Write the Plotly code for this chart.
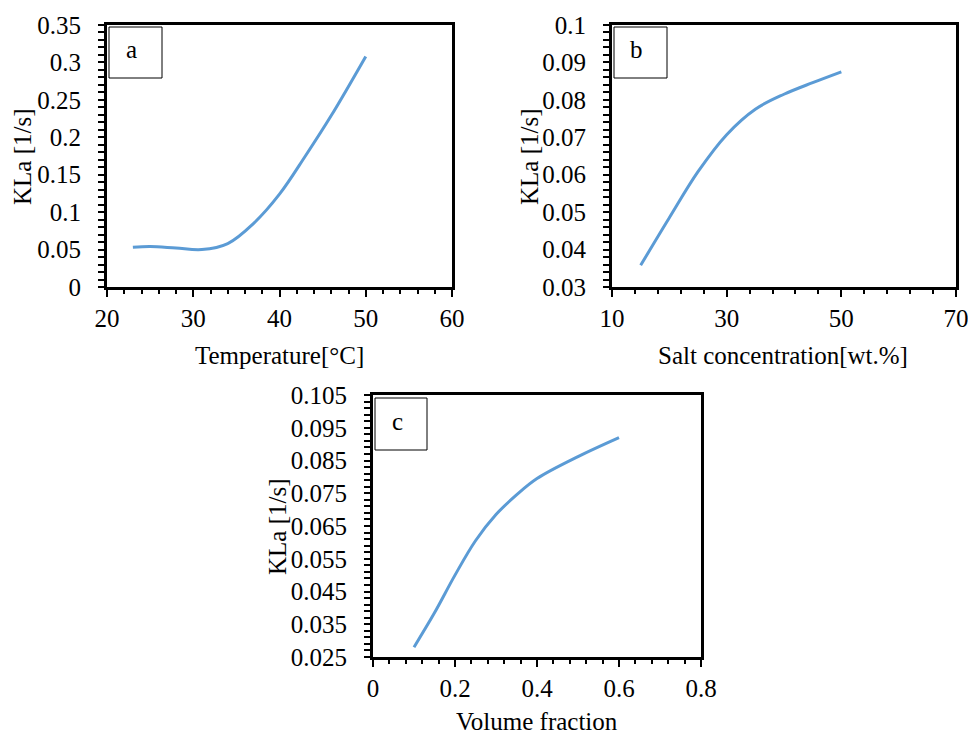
import plotly.graph_objects as go

W, H = 968, 734

# ---- data ----
temp_x = [23, 25, 28, 31, 34, 37, 40, 43, 46, 50]
temp_y = [0.053, 0.054, 0.052, 0.050, 0.058, 0.085, 0.124, 0.175, 0.229, 0.308]

salt_x = [15, 20, 25, 30, 35, 40, 45, 50]
salt_y = [0.0358, 0.0485, 0.0608, 0.0707, 0.0775, 0.0815, 0.0846, 0.0875]

vf_x = [0.1, 0.15, 0.2, 0.25, 0.3, 0.35, 0.4, 0.5, 0.6]
vf_y = [0.028, 0.0385, 0.050, 0.0605, 0.0685, 0.0745, 0.0795, 0.0862, 0.092]

a_xticks = [20, 30, 40, 50, 60]
a_xtext = ["20", "30", "40", "50", "60"]
a_yticks = [0, 0.05, 0.1, 0.15, 0.2, 0.25, 0.3, 0.35]
a_ytext = ["0", "0.05", "0.1", "0.15", "0.2", "0.25", "0.3", "0.35"]

b_xticks = [10, 30, 50, 70]
b_xtext = ["10", "30", "50", "70"]
b_yticks = [0.03, 0.04, 0.05, 0.06, 0.07, 0.08, 0.09, 0.1]
b_ytext = ["0.03", "0.04", "0.05", "0.06", "0.07", "0.08", "0.09", "0.1"]

c_xticks = [0, 0.2, 0.4, 0.6, 0.8]
c_xtext = ["0", "0.2", "0.4", "0.6", "0.8"]
c_yticks = [0.025, 0.035, 0.045, 0.055, 0.065, 0.075, 0.085, 0.095, 0.105]
c_ytext = ["0.025", "0.035", "0.045", "0.055", "0.065", "0.075", "0.085", "0.095", "0.105"]

LINE = "#5B9BD5"
FONT = "Liberation Serif"
FS = 25


def px(x):
    return x / W


def py(y):
    return 1 - y / H


fig = go.Figure()
fig.add_trace(go.Scatter(x=temp_x, y=temp_y, mode="lines", line=dict(color=LINE, width=3, shape="spline"),
                         xaxis="x", yaxis="y", showlegend=False))
fig.add_trace(go.Scatter(x=salt_x, y=salt_y, mode="lines", line=dict(color=LINE, width=3, shape="spline"),
                         xaxis="x2", yaxis="y2", showlegend=False))
fig.add_trace(go.Scatter(x=vf_x, y=vf_y, mode="lines", line=dict(color=LINE, width=3, shape="spline"),
                         xaxis="x3", yaxis="y3", showlegend=False))


def xax(dom, anchor, rng, vals, text, minor):
    return dict(domain=dom, anchor=anchor, range=rng, tickmode="array", tickvals=vals, ticktext=text,
                automargin=False, ticklabeloverflow="allow",
                showline=True, linewidth=3, linecolor="black", mirror=True, showgrid=False, zeroline=False,
                ticks="outside", ticklen=7, tickwidth=2, tickcolor="black", ticklabelstandoff=0,
                tickfont=dict(family=FONT, size=FS, color="black"),
                minor=dict(tick0=rng[0], dtick=minor, ticks="outside", ticklen=4, tickwidth=2,
                           tickcolor="black", showgrid=False))


def yax(dom, anchor, rng, vals, text, minor):
    return dict(domain=dom, anchor=anchor, range=rng, tickmode="array", tickvals=vals, ticktext=text,
                automargin=False, ticklabeloverflow="allow",
                showline=True, linewidth=3, linecolor="black", mirror=True, showgrid=False, zeroline=False,
                ticks="outside", ticklen=6, tickwidth=2, tickcolor="black", ticklabelstandoff=12,
                tickfont=dict(family=FONT, size=FS, color="black"),
                minor=dict(tick0=rng[0], dtick=minor, ticks="outside", ticklen=6, tickwidth=2,
                           tickcolor="black", showgrid=False))


ya_dom = [py(287), py(25)]
yc_dom = [py(657), py(395)]

fig.update_layout(
    template="none",
    width=W, height=H, margin=dict(l=0, r=0, t=0, b=0, pad=0),
    paper_bgcolor="white", plot_bgcolor="white",
    font=dict(family=FONT, size=FS, color="black"),
    xaxis=xax([px(107), px(452)], "y", [20, 60], a_xticks, a_xtext, 2),
    yaxis=yax(ya_dom, "x", [0, 0.35], a_yticks, a_ytext, 0.01),
    xaxis2=xax([px(612), px(956)], "y2", [10, 70], b_xticks, b_xtext, 4),
    yaxis2=yax(ya_dom, "x2", [0.03, 0.1], b_yticks, b_ytext, 0.002),
    xaxis3=xax([px(373), px(701)], "y3", [0, 0.8], c_xticks, c_xtext, 0.04),
    yaxis3=yax(yc_dom, "x3", [0.025, 0.105], c_yticks, c_ytext, 0.002),
)

# panel label boxes
boxes = [((109, 27, 162, 78), "a"), ((614, 27, 667, 78), "b"), ((375, 398, 427, 450), "c")]
for (x0, y0, x1, y1), lab in boxes:
    fig.add_shape(type="rect", xref="paper", yref="paper", x0=px(x0), x1=px(x1), y0=py(y1), y1=py(y0),
                  line=dict(color="black", width=1), fillcolor="white", layer="above")
    fig.add_annotation(xref="paper", yref="paper", x=px((x0 + x1) / 2 - 4), y=py((y0 + y1) / 2 - 3),
                       text=lab, showarrow=False, xanchor="center", yanchor="middle",
                       font=dict(family=FONT, size=FS, color="black"))

# axis titles
titles = [
    ("Temperature[°C]", 279, 355, 0),
    ("Salt concentration[wt.%]", 783, 355, 0),
    ("Volume fraction", 537, 721, 0),
    ("KLa [1/s]", 22, 157, -90),
    ("KLa [1/s]", 529, 157, -90),
    ("KLa [1/s]", 277, 527, -90),
]
for t, x, y, ang in titles:
    fig.add_annotation(xref="paper", yref="paper", x=px(x), y=py(y), text=t, showarrow=False,
                       xanchor="center", yanchor="middle", textangle=ang,
                       font=dict(family=FONT, size=FS, color="black"))

fig.write_html("out.html")
